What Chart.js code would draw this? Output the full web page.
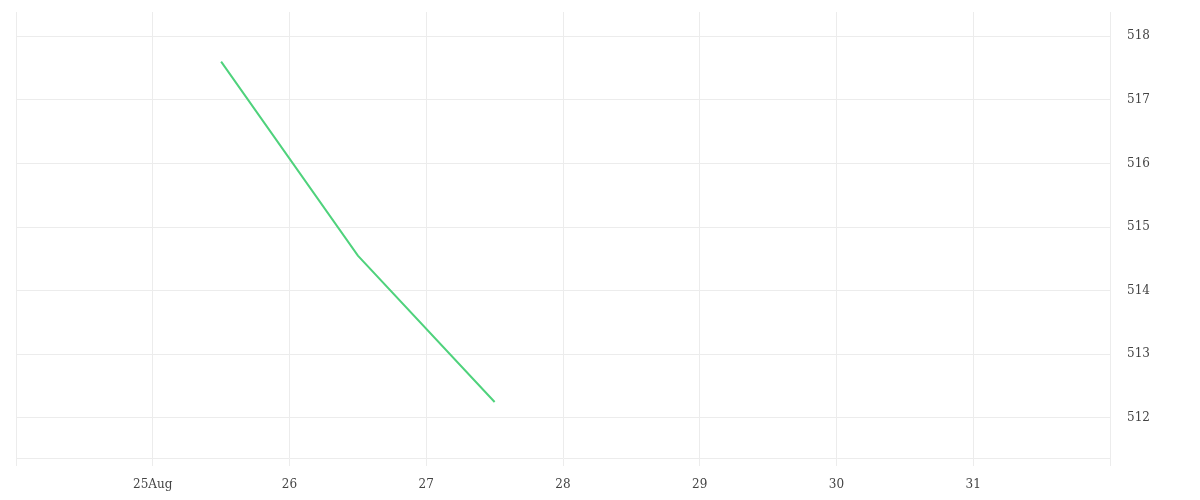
<!DOCTYPE html>
<html>
<head>
<meta charset="utf-8">
<script src="https://cdn.jsdelivr.net/npm/chart.js@4/dist/chart.umd.min.js"></script>
<style>
  html, body { margin: 0; padding: 0; background: #fff; }
  #wrap { width: 1200px; height: 500px; }
</style>
</head>
<body>
<div id="wrap"><canvas id="priceChart"></canvas></div>
<script>
// data (x = day of August)
const days = [25.5, 26.5, 27.5];
const prices = [517.6, 514.55, 512.25];
const dayTicks = [25, 26, 27, 28, 29, 30, 31];
const priceTicks = [512, 513, 514, 515, 516, 517, 518];

const gridColor = '#ececec';
const textColor = '#444';

const ctx = document.getElementById('priceChart').getContext('2d');
new Chart(ctx, {
    type: 'line',
    data: {
        datasets: [{
            data: days.map((d, i) => ({ x: d, y: prices[i] })),
            borderColor: '#4fd27c',
            borderWidth: 2,
            pointRadius: 0,
            tension: 0,
            fill: false
        }]
    },
    options: {
        responsive: true,
        maintainAspectRatio: false,
        animation: false,
        layout: { padding: { left: 16, top: 12, right: 0, bottom: 0 } },
        plugins: { legend: { display: false }, tooltip: { enabled: false } },
        scales: {
            x: {
                type: 'linear',
                min: 24,
                max: 32,
                afterBuildTicks: s => { s.ticks = [24].concat(dayTicks, [32]).map(v => ({ value: v })); },
                afterFit: s => { s.height = 42; s.paddingLeft = 0; s.paddingRight = 0; },
                grid: { color: gridColor, tickLength: 8 },
                border: { color: gridColor },
                ticks: {
                    color: textColor,
                    font: { family: 'DejaVu Serif', size: 12 },
                    padding: 12,
                    maxRotation: 0,
                    autoSkip: false,
                    callback: v => (v === 25 ? '25Aug' : (dayTicks.includes(v) ? String(v) : ''))
                }
            },
            y: {
                position: 'right',
                min: 511.37,
                max: 518.38,
                afterBuildTicks: s => { s.ticks = priceTicks.map(v => ({ value: v })); },
                afterFit: s => { s.width = 90; s.paddingTop = 0; s.paddingBottom = 0; },
                grid: { color: gridColor, drawTicks: false },
                border: { color: gridColor },
                ticks: {
                    color: textColor,
                    font: { family: 'DejaVu Serif', size: 12 },
                    padding: 17
                }
            }
        }
    }
});
</script>
</body>
</html>
